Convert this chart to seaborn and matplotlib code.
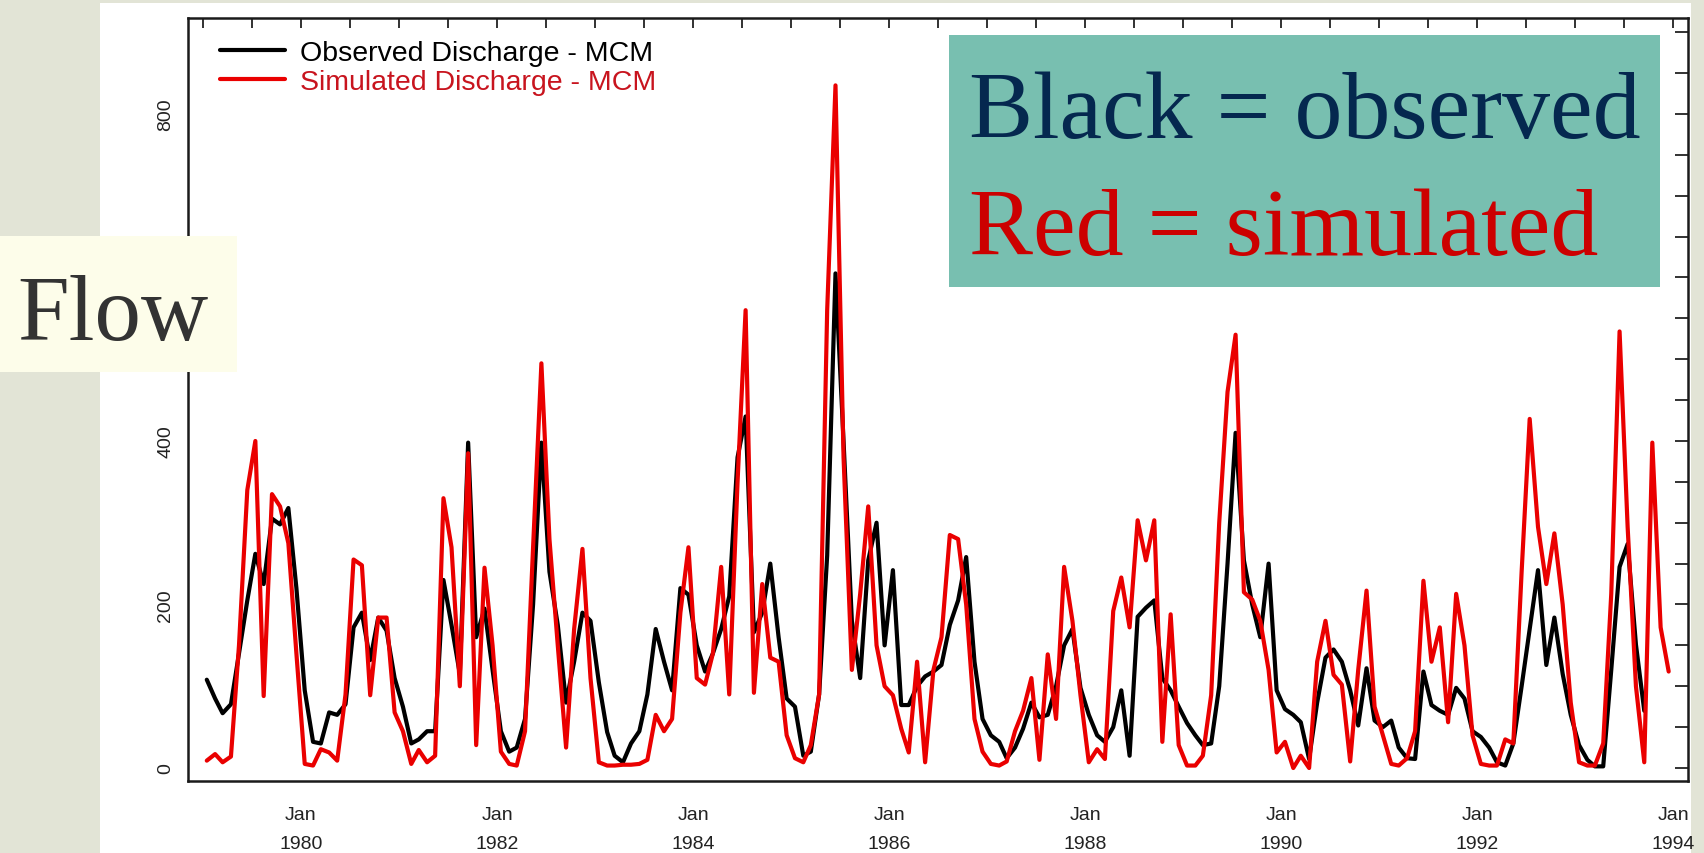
import numpy as np
import pandas as pd
import matplotlib
matplotlib.use("Agg")
import matplotlib.pyplot as plt
import matplotlib.dates as mdates
from matplotlib.patches import Rectangle
from matplotlib.lines import Line2D
from matplotlib.ticker import FuncFormatter
import seaborn as sns

# ---------------- data (monthly, Jan 1979 - Dec 1993) ----------------
series_names = ["Observed Discharge - MCM", "Simulated Discharge - MCM"]

observed = [
    108, 85, 67, 78, 140, 205, 262, 225, 305, 298, 318, 220,   # 1979
    95, 32, 30, 68, 65, 78, 172, 190, 132, 184, 168, 110,      # 1980
    75, 30, 35, 45, 45, 230, 175, 115, 398, 160, 195, 120,     # 1981
    45, 20, 25, 60, 200, 398, 240, 175, 80, 130, 190, 180,     # 1982
    105, 44, 15, 7, 30, 45, 90, 170, 130, 95, 220, 212,        # 1983
    150, 118, 140, 170, 210, 380, 430, 166, 190, 250, 160, 85, # 1984
    75, 15, 20, 90, 260, 605, 400, 180, 110, 254, 300, 150,    # 1985
    242, 77, 77, 100, 112, 118, 126, 175, 205, 258, 130, 60,   # 1986
    40, 32, 12, 25, 48, 80, 62, 65, 100, 150, 170, 98,         # 1987
    65, 40, 32, 50, 95, 15, 185, 196, 205, 110, 95, 75,        # 1988
    55, 40, 28, 30, 100, 250, 410, 254, 200, 160, 250, 95,     # 1989
    72, 65, 56, 11, 80, 135, 145, 130, 95, 52, 122, 58,        # 1990
    50, 58, 25, 12, 11, 118, 77, 70, 65, 98, 85, 45,           # 1991
    38, 25, 7, 3, 30, 100, 170, 242, 126, 184, 115, 65,        # 1992
    28, 10, 2, 2, 120, 246, 274, 151, 70,                      # 1993 (to Sep)
]

simulated = [
    9, 17, 7, 14, 150, 340, 400, 88, 335, 320, 275, 140,       # 1979
    5, 3, 23, 19, 9, 90, 255, 248, 89, 184, 184, 68,           # 1980
    45, 5, 22, 7, 15, 330, 270, 100, 385, 28, 245, 150,        # 1981
    20, 5, 3, 45, 270, 495, 280, 150, 25, 170, 268, 110,       # 1982
    7, 3, 3, 4, 4, 5, 10, 65, 45, 60, 190, 270,                # 1983
    110, 102, 140, 246, 90, 350, 560, 92, 225, 135, 130, 40,   # 1984
    12, 7, 28, 90, 560, 835, 380, 120, 213, 320, 150, 100,     # 1985
    89, 48, 19, 130, 7, 120, 160, 285, 280, 200, 60, 20,       # 1986
    5, 3, 8, 45, 70, 110, 10, 139, 60, 246, 180, 89,           # 1987
    7, 23, 11, 192, 233, 172, 303, 254, 303, 32, 188, 28,      # 1988
    3, 3, 15, 89, 300, 460, 530, 215, 206, 180, 120, 19,       # 1989
    32, 0, 15, 0, 130, 180, 114, 102, 8, 120, 217, 75,         # 1990
    40, 5, 3, 12, 45, 229, 130, 172, 56, 213, 150, 40,         # 1991
    5, 3, 3, 35, 30, 240, 427, 295, 225, 287, 200, 80,         # 1992
    7, 3, 3, 30, 213, 534, 295, 100, 7, 398, 172, 118,         # 1993
]

y_ticks = list(range(0, 901, 50))
y_labelled = [0, 200, 400, 800]   # 600 is covered by the "Flow" box in the original

# mid-month dates
months = pd.date_range("1979-01-01", periods=len(simulated), freq="MS") + pd.Timedelta(days=14)

df = pd.concat([
    pd.DataFrame({"date": months[:len(observed)], "flow": observed, "series": series_names[0]}),
    pd.DataFrame({"date": months, "flow": simulated, "series": series_names[1]}),
], ignore_index=True)

# ---------------- style ----------------
sns.set_theme(style="white")
plt.rcParams["font.family"] = ["Liberation Sans", "DejaVu Sans"]

W, H = 1704, 854
fig = plt.figure(figsize=(W / 100, H / 100), dpi=100)
fig.patch.set_facecolor("#E2E4D6")

# white chart panel
fig.add_artist(Rectangle((100 / W, 0), (1691 - 100) / W, (854 - 4) / H,
                         transform=fig.transFigure, facecolor="white",
                         edgecolor="none", zorder=-1))

ax_l, ax_r, ax_t, ax_b = 188, 1688, 19, 782
ax = fig.add_axes([ax_l / W, 1 - ax_b / H, (ax_r - ax_l) / W, (ax_b - ax_t) / H])
ax.set_facecolor("white")

RED = "#EA0000"
sns.lineplot(data=df, x="date", y="flow", hue="series", hue_order=series_names,
             palette=["black", RED], linewidth=3.0, estimator=None, sort=True,
             legend=False, ax=ax)

ax.set_xlim(pd.Timestamp("1978-11-06"), pd.Timestamp("1994-02-25"))
ax.set_ylim(-15.9, 917.4)
ax.set_xlabel("")
ax.set_ylabel("")

# x ticks every 6 months, labels at Jan of even years
ax.xaxis.set_major_locator(mdates.MonthLocator(bymonth=[1, 7]))

def xfmt(x, pos):
    d = mdates.num2date(x)
    if d.month == 1 and d.year % 2 == 0:
        return f"Jan\n{d.year}"
    return ""

ax.xaxis.set_major_formatter(FuncFormatter(xfmt))
ax.set_yticks(y_ticks)
ax.set_yticklabels([str(v) if v in y_labelled else "" for v in y_ticks])

ax.tick_params(axis="both", which="major", direction="in", top=True, right=True,
               colors="#222222", width=1.3, labelsize=14)
ax.tick_params(axis="x", length=7.5, pad=18)
ax.tick_params(axis="y", length=9.5, pad=10)
for lab in ax.get_yticklabels():
    lab.set_rotation(90)
    lab.set_va("center")
for lab in ax.get_xticklabels():
    lab.set_linespacing(1.9)
for sp in ax.spines.values():
    sp.set_color("#1A1A1A")
    sp.set_linewidth(1.8)

# legend
handles = [Line2D([], [], color="black", lw=3.0), Line2D([], [], color=RED, lw=3.0)]
ax.legend(handles, series_names, loc="upper left", bbox_to_anchor=(0.0213, 0.9715),
          frameon=False, fontsize=20.5, handlelength=2.3, handletextpad=0.5,
          labelspacing=0.12, borderpad=0, borderaxespad=0,
          labelcolor=["black", "#C8141E"])

# "Flow" label box
fig.add_artist(Rectangle((0, 1 - 373 / H), 237 / W, (373 - 237) / H,
                         transform=fig.transFigure, facecolor="#FDFDEA",
                         edgecolor="none", zorder=5))
fig.text(17 / W, 1 - 340 / H, "Flow", fontsize=67, family="Liberation Serif",
         color="#333333", ha="left", va="baseline", zorder=6)

# teal annotation box
fig.add_artist(Rectangle((949 / W, 1 - 288 / H), (1660 - 949) / W, (288 - 36) / H,
                         transform=fig.transFigure, facecolor="#78BFB0",
                         edgecolor="none", zorder=5))
fig.text(969 / W, 1 - 138 / H, "Black = observed", fontsize=69,
         family="Liberation Serif", color="#05284F", ha="left", va="baseline", zorder=6)
fig.text(969 / W, 1 - 255 / H, "Red = simulated", fontsize=69,
         family="Liberation Serif", color="#CC0000", ha="left", va="baseline", zorder=6)

fig.savefig("out.png", dpi=100, facecolor=fig.get_facecolor())
